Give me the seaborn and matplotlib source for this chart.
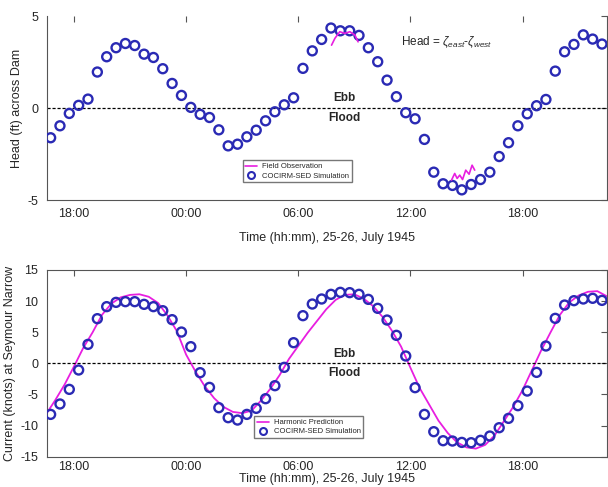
import numpy as np
import pandas as pd
import matplotlib
matplotlib.use("Agg")
import matplotlib.pyplot as plt
import seaborn as sns
from matplotlib.lines import Line2D

# time in hours from 00:00, 25 July 1945
sim_start = 16.75
sim_step = 0.5

head_sim = [-1.61, -0.96, -0.29, 0.15, 0.49, 1.96, 2.79, 3.28, 3.51, 3.40,
            2.93, 2.75, 2.14, 1.34, 0.69, 0.04, -0.34, -0.51, -1.18, -2.05,
            -1.96, -1.56, -1.20, -0.69, -0.20, 0.18, 0.56, 2.16, 3.11, 3.73,
            4.35, 4.20, 4.20, 3.95, 3.28, 2.52, 1.52, 0.62, -0.25, -0.58,
            -1.70, -3.48, -4.11, -4.20, -4.44, -4.15, -3.88, -3.48, -2.63, -1.88,
            -0.96, -0.31, 0.13, 0.47, 2.01, 3.06, 3.46, 3.98, 3.75, 3.48]

current_sim = [-8.20, -6.53, -4.18, -1.07, 3.05, 7.18, 9.11, 9.80, 9.91, 9.91,
               9.48, 9.11, 8.46, 7.02, 5.03, 2.68, -1.50, -3.86, -7.12, -8.73,
               -9.11, -8.20, -7.23, -5.68, -3.59, -0.64, 3.32, 7.66, 9.53, 10.34,
               11.09, 11.41, 11.36, 11.09, 10.28, 8.84, 6.96, 4.50, 1.18, -3.91,
               -8.20, -10.98, -12.43, -12.48, -12.70, -12.75, -12.37, -11.68, -10.34, -8.84,
               -6.80, -4.45, -1.45, 2.79, 7.23, 9.37, 10.07, 10.34, 10.45, 10.12]

# field observation of head (two short records)
obs1_t = [31.78, 31.96, 32.22, 32.49, 32.76, 33.03, 33.20]
obs1_v = [3.42, 3.79, 4.15, 4.06, 4.15, 3.97, 3.60]
obs2_t = [38.20, 38.37, 38.50, 38.64, 38.79, 38.96, 39.14, 39.30, 39.44]
obs2_v = [-3.91, -3.55, -3.82, -3.64, -3.88, -3.37, -3.59, -3.10, -3.37]

# harmonic prediction of current, every half hour from 16:30
harm_start = 16.5
harm_v = [-8.2, -5.9, -3.4, -0.5, 2.5, 5.0, 7.8, 9.6, 10.6, 11.0,
          11.1, 10.7, 9.7, 7.7, 5.2, 1.4, -1.3, -3.7, -5.6, -7.0,
          -7.8, -8.0, -7.6, -6.0, -4.1, -1.9, 0.7, 2.8, 4.9, 6.8,
          8.7, 10.2, 11.0, 11.1, 10.4, 9.2, 7.5, 5.3, 2.7, -0.7,
          -4.0, -6.6, -9.2, -11.2, -12.7, -13.5, -13.7, -13.1, -11.6, -9.3,
          -7.0, -4.3, -1.1, 2.1, 5.0, 7.8, 9.8, 10.9, 11.5, 11.6, 10.8]

tick_pos = [18, 24, 30, 36, 42]
tick_labels = ["18:00", "00:00", "06:00", "12:00", "18:00"]
xlim = (16.54, 46.5)

sim_t = sim_start + sim_step * np.arange(len(head_sim))
harm_t = harm_start + 0.5 * np.arange(len(harm_v))
sim = pd.DataFrame({"t": sim_t, "head": head_sim, "current": current_sim})

sns.set_style("white")
plt.rcParams["font.family"] = ["Liberation Sans", "DejaVu Sans"]
plt.rcParams["mathtext.fontset"] = "custom"
plt.rcParams["mathtext.rm"] = "Liberation Sans"
plt.rcParams["mathtext.it"] = "Liberation Sans:italic"
plt.rcParams["axes.unicode_minus"] = False

blue = "#2a2ab4"
pink = "#e81ee0"
spine_c = "#555555"

fig = plt.figure(figsize=(6.08, 4.87), dpi=100)
ax1 = fig.add_axes([0.0768, 0.589, 0.921, 0.378])
ax2 = fig.add_axes([0.0768, 0.0622, 0.921, 0.3834])


def style_axis(ax, ylim, yticks, ylabel, pad=6, labelpad=8):
    ax.set_xlim(*xlim)
    ax.set_ylim(*ylim)
    ax.set_xticks(tick_pos)
    ax.set_xticklabels(tick_labels)
    ax.set_yticks(yticks)
    ax.tick_params(direction="in", length=4, width=0.8, color=spine_c,
                   top=True, right=True, labelsize=9, pad=6)
    ax.tick_params(axis="x", pad=pad)
    for s in ax.spines.values():
        s.set_color(spine_c)
        s.set_linewidth(0.8)
    ax.set_xlabel("Time (hh:mm), 25-26, July 1945", fontsize=9, labelpad=labelpad)
    ax.set_ylabel(ylabel, fontsize=9, labelpad=3)
    ax.axhline(0, color="black", lw=0.9, ls=(0, (2.5, 1.5)))


# ---- top: head across dam ----
sns.scatterplot(data=sim, x="t", y="head", ax=ax1, marker="o", s=42,
                facecolor="none", edgecolor=blue, linewidth=1.7, zorder=3)
sns.lineplot(x=obs1_t, y=obs1_v, ax=ax1, color=pink, lw=1.2, zorder=4)
sns.lineplot(x=obs2_t, y=obs2_v, ax=ax1, color=pink, lw=1.2, zorder=4)
style_axis(ax1, (-5, 5), [-5, 0, 5], "Head (ft) across Dam")
ax1.spines["top"].set_visible(False)
ax1.text(32.45, 0.2, "Ebb", ha="center", va="bottom", fontsize=8.5, fontweight="bold")
ax1.text(32.45, -0.2, "Flood", ha="center", va="top", fontsize=8.5, fontweight="bold")
ax1.text(35.5, 3.6, r"Head = $\zeta_{east}$-$\zeta_{west}$", ha="left", va="center",
         fontsize=8.5)

leg_handles1 = [Line2D([], [], color=pink, lw=1.2),
                Line2D([], [], ls="", marker="o", mfc="none", mec=blue, mew=1.5, ms=5)]
ax1.legend(leg_handles1, ["Field Observation", "COCIRM-SED Simulation"],
           loc="lower left", bbox_to_anchor=(0.343, 0.076), fontsize=5.5,
           frameon=True, fancybox=False, edgecolor="#777777", framealpha=1,
           handlelength=1.6, borderpad=0.35, labelspacing=0.25, handletextpad=0.6)

# ---- bottom: current at Seymour Narrow ----
sns.lineplot(x=harm_t, y=harm_v, ax=ax2, color=pink, lw=1.3, zorder=2)
sns.scatterplot(data=sim, x="t", y="current", ax=ax2, marker="o", s=42,
                facecolor="none", edgecolor=blue, linewidth=1.7, zorder=3)
style_axis(ax2, (-15, 15), [-15, -10, -5, 0, 5, 10, 15],
           "Current (knots) at Seymour Narrow", pad=3, labelpad=0)
ax2.text(32.45, 0.6, "Ebb", ha="center", va="bottom", fontsize=8.5, fontweight="bold")
ax2.text(32.45, -0.6, "Flood", ha="center", va="top", fontsize=8.5, fontweight="bold")

leg_handles2 = [Line2D([], [], color=pink, lw=1.2),
                Line2D([], [], ls="", marker="o", mfc="none", mec=blue, mew=1.5, ms=5)]
ax2.legend(leg_handles2, ["Harmonic Prediction", "COCIRM-SED Simulation"],
           loc="lower left", bbox_to_anchor=(0.364, 0.079), fontsize=5.5,
           frameon=True, fancybox=False, edgecolor="#777777", framealpha=1,
           handlelength=1.6, borderpad=0.35, labelspacing=0.25, handletextpad=0.6)

fig.savefig("out.png", dpi=100)
